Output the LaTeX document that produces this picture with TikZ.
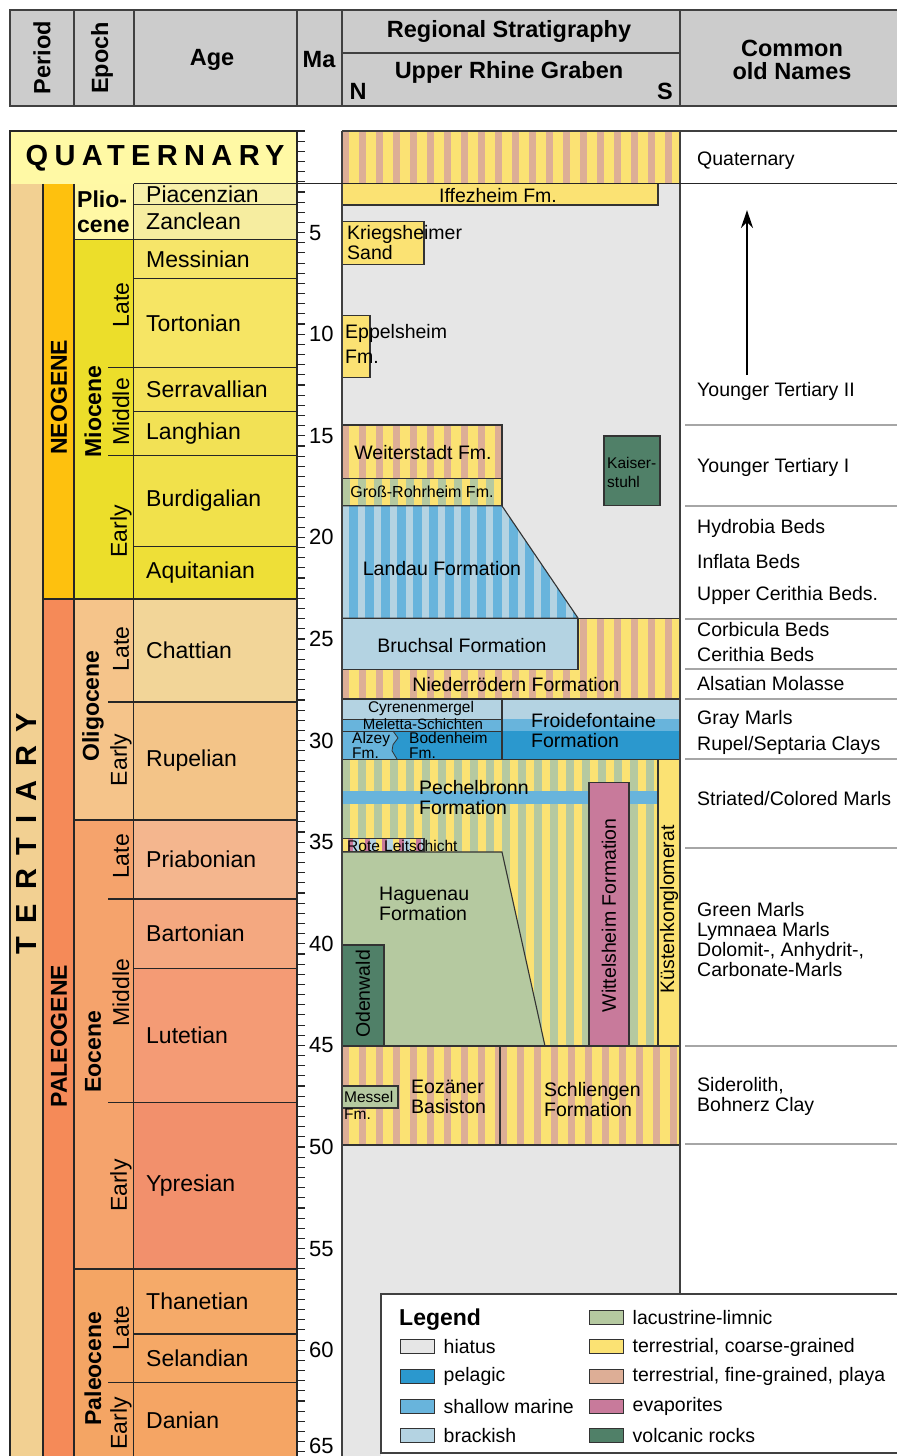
\documentclass[tikz,border=0pt]{standalone}
\usepackage{fontspec}
\setmainfont{Liberation Sans}
\usetikzlibrary{arrows.meta,positioning}

% time scale colours
\definecolor{hdrgrey}{RGB}{204,204,204}
\definecolor{quat}{RGB}{255,249,165}
\definecolor{tert}{RGB}{242,208,146}
\definecolor{neog}{RGB}{254,193,14}
\definecolor{paleog}{RGB}{245,138,88}
\definecolor{plio}{RGB}{255,248,165}
\definecolor{piac}{RGB}{247,240,170}
\definecolor{zanc}{RGB}{246,237,160}
\definecolor{mioc}{RGB}{236,222,42}
\definecolor{mess}{RGB}{246,229,105}
\definecolor{tort}{RGB}{246,229,100}
\definecolor{serr}{RGB}{244,226,90}
\definecolor{lang}{RGB}{242,225,85}
\definecolor{burd}{RGB}{241,225,75}
\definecolor{aqui}{RGB}{238,223,55}
\definecolor{olig}{RGB}{245,196,138}
\definecolor{chat}{RGB}{242,213,152}
\definecolor{rupe}{RGB}{243,196,136}
\definecolor{eoc}{RGB}{245,163,108}
\definecolor{pria}{RGB}{244,182,142}
\definecolor{bart}{RGB}{244,168,128}
\definecolor{lute}{RGB}{244,155,117}
\definecolor{ypre}{RGB}{242,144,108}
\definecolor{paleoc}{RGB}{244,165,100}
\definecolor{than}{RGB}{245,170,105}
\definecolor{sela}{RGB}{245,168,102}
\definecolor{dani}{RGB}{245,165,100}
% facies colours
\definecolor{hiatus}{RGB}{230,230,230}
\definecolor{pelagic}{RGB}{43,152,206}
\definecolor{shallow}{RGB}{104,180,220}
\definecolor{brackish}{RGB}{180,211,226}
\definecolor{lacus}{RGB}{181,201,160}
\definecolor{tcoarse}{RGB}{251,226,115}
\definecolor{tfine}{RGB}{221,174,150}
\definecolor{evap}{RGB}{200,122,155}
\definecolor{volc}{RGB}{80,128,104}

\tikzset{
  stripes/.style n args={4}{fill=#1,path picture={%
    \foreach \sx in {0,#4,...,400}
      \fill[#2] ([xshift=\sx pt]path picture bounding box.south west)
        rectangle ([xshift=\sx pt+#3pt]path picture bounding box.north west);}},
  redstripes/.style={fill=tcoarse,path picture={%
    \foreach \sx in {0,17,...,120} {
      \fill[evap] ([xshift=\sx pt+6pt]path picture bounding box.south west)
        rectangle ([xshift=\sx pt+11pt]path picture bounding box.north west);
      \fill[brackish] ([xshift=\sx pt+11pt]path picture bounding box.south west)
        rectangle ([xshift=\sx pt+17pt]path picture bounding box.north west);}}},
}

\begin{document}
\begin{tikzpicture}[x=1pt,y=-20.32pt,
  cellline/.style={line width=1.3pt,black!85},
  colline/.style={line width=2pt,black!75},
  sepline/.style={line width=1.5pt,black!35},
  unit/.style={draw=black!80,line width=1.1pt},
  matick/.style={line width=1.1pt,black!85},
  agetxt/.style={anchor=west,inner sep=0pt,font=\fontsize{23}{24}\selectfont},
  epochtxt/.style={rotate=90,inner sep=0pt,font=\bfseries\fontsize{23}{24}\selectfont},
  subtxt/.style={rotate=90,inner sep=0pt,font=\fontsize{23}{24}\selectfont},
  hdrtxt/.style={inner sep=0pt,align=center,font=\bfseries\fontsize{23.5}{23}\selectfont},
  malabel/.style={anchor=west,inner sep=0pt,font=\fontsize{22}{22}\selectfont},
  fmtxt/.style={inner sep=0pt,align=left,font=\fontsize{19.5}{20}\selectfont},
  smalltxt/.style={inner sep=0pt,align=left,font=\fontsize{15.5}{19}\selectfont},
  oldtxt/.style={anchor=west,inner sep=0pt,align=left,font=\fontsize{19.5}{20}\selectfont},
  swatch/.style={draw=black!80,line width=1pt,minimum width=34pt,minimum height=14pt,inner sep=0pt},
]
\fill[white] (0,-6.447) rectangle (897,65.207);
\useasboundingbox (0,-6.447) rectangle (897,65.207);

% header
\fill[hdrgrey] (10,-5.955) rectangle (897,-1.23);
\draw[colline] (897,-5.955) -- (10,-5.955) -- (10,-1.23) -- (897,-1.23);
\foreach \hx in {74,133.5,297,342,680}
  \draw[colline] (\hx,-5.955) -- (\hx,-1.23);
\draw[colline] (342,-3.839) -- (680,-3.839);
\node[hdrtxt,rotate=90] (hperiod) at (42,-3.6) {Period};
\node[hdrtxt,rotate=90] (hepoch) at (102,-3.6) {Epoch};
\node[hdrtxt] (hage) at (212,-3.5) {Age};
\node[hdrtxt] (hma) at (319,-3.5) {Ma};
\node[hdrtxt] (hregion) at (509,-4.92) {Regional Stratigraphy};
\node[hdrtxt] (hgraben) at (509,-2.9) {Upper Rhine Graben};
\node[hdrtxt] (hnorth) at (358,-1.95) {N};
\node[hdrtxt] (hsouth) at (665,-1.95) {S};
\node[hdrtxt] (hold) at (792,-3.52) {Common\\old Names};

% time scale
\fill[quat] (10,0) rectangle (297,2.6);
\fill[tert] (10,2.6) rectangle (43,65.3);
\fill[neog] (43,2.6) rectangle (74,23.03);
\fill[paleog] (43,23.03) rectangle (74,65.3);
\foreach \ta/\tb/\cl in {2.6/5.33/plio,5.33/23.03/mioc,23.03/33.9/olig,33.9/56/eoc,56/65.3/paleoc}
  \fill[\cl] (74,\ta) rectangle (133.5,\tb);
\foreach \nm/\ta/\tb/\cl in {Piacenzian/2.6/3.6/piac,Zanclean/3.6/5.33/zanc,
    Messinian/5.33/7.25/mess,Tortonian/7.25/11.63/tort,Serravallian/11.63/13.82/serr,
    Langhian/13.82/15.97/lang,Burdigalian/15.97/20.44/burd,Aquitanian/20.44/23.03/aqui,
    Chattian/23.03/28.1/chat,Rupelian/28.1/33.9/rupe,Priabonian/33.9/37.8/pria,
    Bartonian/37.8/41.2/bart,Lutetian/41.2/47.8/lute,Ypresian/47.8/56/ypre,
    Thanetian/56/59.2/than,Selandian/59.2/61.6/sela,Danian/61.6/65.3/dani} {
  \fill[\cl] (133.5,\ta) rectangle (297,\tb);
  \draw[cellline] (133.5,\ta) -- (297,\ta);
  \node[agetxt] (\nm) at (146,{(\ta+\tb)/2}) {\nm};
}
\foreach \b in {5.33,33.9,56}
  \draw[cellline] (74,\b) -- (297,\b);
\draw[cellline] (43,23.03) -- (297,23.03);
\foreach \b in {11.63,15.97,28.1,37.8,47.8,61.6}
  \draw[cellline] (108,\b) -- (133.5,\b);
\foreach \vx in {43,74,133.5}
  \draw[cellline] (\vx,2.6) -- (\vx,65.3);
\draw[cellline] (297,0) -- (10,0) -- (10,65.3);
\draw[cellline] (297,0) -- (297,65.3);

\node[inner sep=0pt,font=\bfseries\fontsize{29}{29}\selectfont\addfontfeature{LetterSpace=22}] (quaternary) at (155,1.33) {QUATERNARY};
\node[rotate=90,inner sep=0pt,font=\bfseries\fontsize{29}{29}\selectfont\addfontfeature{LetterSpace=48}] (tertiary) at (27,34.6) {TERTIARY};
\node[epochtxt] (neogene) at (59,13.1) {NEOGENE};
\node[epochtxt] (paleogene) at (59,44.55) {PALEOGENE};
\node[anchor=west,inner sep=0pt,align=left,font=\bfseries\fontsize{23}{25}\selectfont] (pliocene) at (77,3.96) {Plio-\\cene};
\node[epochtxt] (miocene) at (93,13.8) {Miocene};
\node[epochtxt] (oligocene) at (93,28.3) {Oligocene};
\node[epochtxt] (eocene) at (93,45.3) {Eocene};
\node[epochtxt] (paleocene) at (93,60.9) {Paleocene};
\node[subtxt] (miolate) at (121,8.56) {Late};
\node[subtxt] (miomid) at (121,13.83) {Middle};
\node[subtxt] (mioearly) at (121,19.7) {Early};
\node[subtxt] (oliglate) at (121,25.5) {Late};
\node[subtxt] (oligearly) at (121,30.95) {Early};
\node[subtxt] (eoclate) at (121,35.7) {Late};
\node[subtxt] (eocmid) at (121,42.4) {Middle};
\node[subtxt] (eocearly) at (121,51.9) {Early};
\node[subtxt] (pallate) at (121,58.9) {Late};
\node[subtxt] (palearly) at (121,63.6) {Early};

% Ma scale
\foreach \t in {0,0.5,...,65}
  \draw[matick] (297,\t) -- (305,\t);
\foreach \t in {5,10,...,60}
  \node[malabel] (ma\t) at (309,\t) {\t};
\node[malabel] (ma65) at (309,64.72) {65};

% Upper Rhine Graben
\fill[hiatus] (342,2.6) rectangle (680,65.3);
\path[stripes={tcoarse}{tfine}{7}{17}] (342,0) rectangle (680,2.6);
\draw[unit,fill=tcoarse] (342,2.6) rectangle (658,3.64);
\node[fmtxt] (iffezheim) at (498,3.2) {Iffezheim Fm.};
\draw[unit,fill=tcoarse] (342,4.46) rectangle (424,6.55);
\node[fmtxt,anchor=west] (kriegsheim) at (347,5.51) {Kriegsheimer\\Sand};
\draw[unit,fill=tcoarse] (342,9.06) rectangle (370,12.11);
\node[fmtxt,anchor=west,font=\fontsize{19.5}{25}\selectfont] (eppelsheim) at (345,10.46) {Eppelsheim\\Fm.};
\draw[unit,stripes={tcoarse}{tfine}{7}{17}] (342,14.47) rectangle (502,17.08);
\node[fmtxt] (weiterstadt) at (423,15.8) {Weiterstadt Fm.};
\draw[unit,stripes={tcoarse}{lacus}{8}{16}] (342,17.08) rectangle (502,18.45);
\node[fmtxt,font=\fontsize{16}{16}\selectfont] (grossrohr) at (422,17.77) {Groß-Rohrheim Fm.};
\draw[unit,stripes={shallow}{brackish}{7}{16}] (342,18.45) -- (502,18.45) -- (578,23.97) -- (342,23.97) -- cycle;
\node[fmtxt] (landau) at (442,21.51) {Landau Formation};
\draw[unit,fill=volc] (604,15.01) rectangle (660,18.45);
\node[smalltxt,anchor=west] (kaiserstuhl) at (607,16.81) {Kaiser-\\stuhl};

\draw[unit,stripes={tcoarse}{tfine}{7}{17}] (578,23.97) -- (680,23.97) -- (680,27.95) -- (342,27.95) -- (342,26.48) -- (578,26.48) -- cycle;
\draw[unit,fill=brackish] (342,23.97) rectangle (578,26.48);
\node[fmtxt] (bruchsal) at (462,25.3) {Bruchsal Formation};
\node[fmtxt] (niederroedern) at (516,27.22) {Niederrödern Formation};

\draw[unit,fill=brackish] (342,27.95) rectangle (502,28.94);
\draw[unit,fill=shallow] (342,28.94) rectangle (502,29.53);
\fill[pelagic] (342,29.53) rectangle (502,30.91);
\fill[shallow] (342,29.53) -- (393,29.53) -- (398,29.87) -- (393,30.2) -- (392,30.5) -- (397,30.91) -- (342,30.91) -- cycle;
\draw[line width=0.8pt,black!80] (393,29.53) -- (398,29.87) -- (393,30.2) -- (392,30.5) -- (397,30.91);
\draw[unit] (342,29.53) rectangle (502,30.91);
\node[smalltxt] (cyrenen) at (421,28.42) {Cyrenenmergel};
\node[smalltxt,font=\fontsize{15}{15}\selectfont] (meletta) at (423,29.18) {Meletta-Schichten};
\node[smalltxt,anchor=west,font=\fontsize{15.5}{15}\selectfont] (alzey) at (352,30.22) {Alzey\\Fm.};
\node[smalltxt,anchor=west,font=\fontsize{15.5}{15}\selectfont] (bodenheim) at (409,30.22) {Bodenheim\\Fm.};
\fill[brackish] (502,27.95) rectangle (680,28.94);
\fill[shallow] (502,28.94) rectangle (680,29.53);
\fill[pelagic] (502,29.53) rectangle (680,30.91);
\draw[unit] (502,27.95) rectangle (680,30.91);
\node[fmtxt,anchor=west] (froidefontaine) at (531,29.48) {Froidefontaine\\Formation};

\path[stripes={tcoarse}{lacus}{8}{16}] (342,30.91) rectangle (658,45.03);
\fill[shallow] (342,32.48) rectangle (658,33.12);
\draw[unit] (342,30.91) rectangle (658,45.03);
\node[fmtxt,anchor=west] (pechelbronn) at (419,32.78) {Pechelbronn\\Formation};
\draw[unit,fill=evap] (589,32.04) rectangle (629,45.03);
\node[fmtxt,rotate=90] (wittelsheim) at (609,38.6) {Wittelsheim Formation};
\draw[unit,fill=tcoarse] (658,30.91) rectangle (680,45.03);
\node[fmtxt,rotate=90] (kuesten) at (669,38.3) {Küstenkonglomerat};
\draw[unit,redstripes] (342,34.81) rectangle (424,35.48);
\node[smalltxt,anchor=west] (rote) at (347,35.2) {Rote Leitschicht};
\draw[unit,fill=lacus] (342,35.48) -- (502,35.48) -- (545,45.03) -- (342,45.03) -- cycle;
\node[fmtxt,anchor=west] (haguenau) at (379,38.04) {Haguenau\\Formation};
\draw[unit,fill=volc] (342,40.06) rectangle (384,45.03);
\node[fmtxt,rotate=90] (odenwald) at (363,42.47) {Odenwald};

\draw[unit,stripes={tcoarse}{tfine}{7}{17}] (342,45.03) rectangle (500,49.9);
\draw[unit,stripes={tcoarse}{tfine}{7}{17}] (500,45.03) rectangle (680,49.9);
\draw[unit,fill=lacus] (342,47.0) rectangle (398,48.08);
\node[smalltxt,anchor=west] (messel) at (344,47.56) {Messel};
\node[smalltxt,anchor=west] (messelfm) at (344,48.4) {Fm.};
\node[fmtxt,anchor=west] (eozaen) at (411,47.54) {Eozäner\\Basiston};
\node[fmtxt,anchor=west] (schliengen) at (544,47.64) {Schliengen\\Formation};

\draw[colline] (342,0) -- (342,65.3);
\draw[colline] (680,0) -- (680,65.3);
\draw[colline] (342,0) -- (897,0);
\draw[cellline] (297,2.6) -- (897,2.6);

% common old names
\foreach \b in {14.47,18.45,24.02,26.48,27.95,30.91,35.28,45.03,49.85}
  \draw[sepline] (685,\b) -- (897,\b);
\node[oldtxt] (oquat) at (697,1.48) {Quaternary};
\coordinate (arrfoot) at (747,12.01);
\coordinate (arrhead) at (747,3.89);
\draw[-{Stealth[length=18pt,width=12pt]},line width=2.2pt] (arrfoot) -- (arrhead);
\node[oldtxt] (oyt2) at (697,12.84) {Younger Tertiary II};
\node[oldtxt] (oyt1) at (697,16.58) {Younger Tertiary I};
\node[oldtxt] (ohydro) at (697,19.54) {Hydrobia Beds};
\node[oldtxt] (oinfl) at (697,21.21) {Inflata Beds};
\node[oldtxt] (oucer) at (697,22.88) {Upper Cerithia Beds.};
\node[oldtxt] (ocorb) at (697,24.51) {Corbicula Beds};
\node[oldtxt] (ocer) at (697,25.74) {Cerithia Beds};
\node[oldtxt] (oalsat) at (697,27.17) {Alsatian Molasse};
\node[oldtxt] (ogray) at (697,28.94) {Gray Marls};
\node[oldtxt] (orupel) at (697,30.22) {Rupel/Septaria Clays};
\node[oldtxt] (ostriat) at (697,32.83) {Striated/Colored Marls};
\node[oldtxt] (ogreen) at (697,39.81) {Green Marls\\Lymnaea Marls\\Dolomit-, Anhydrit-,\\Carbonate-Marls};
\node[oldtxt] (osider) at (697,47.49) {Siderolith,\\Bohnerz Clay};

% legend
\fill[white] (381,57.24) rectangle (897,65.3);
\draw[colline,line width=1.5pt] (897,57.24) -- (381,57.24) -- (381,65.06) -- (897,65.06);
\node[anchor=west,inner sep=0pt,font=\bfseries\fontsize{23}{23}\selectfont] (legend) at (399,58.51) {Legend};
\node[swatch,fill=hiatus] (swhiatus) at (417,59.84) {};
\node[swatch,fill=pelagic] (swpelagic) at (417,61.27) {};
\node[swatch,fill=shallow] (swshallow) at (417,62.75) {};
\node[swatch,fill=brackish] (swbrackish) at (417,64.22) {};
\node[swatch,fill=lacus] (swlacus) at (606,58.37) {};
\node[swatch,fill=tcoarse] (swcoarse) at (606,59.84) {};
\node[swatch,fill=tfine] (swfine) at (606,61.27) {};
\node[swatch,fill=evap] (swevap) at (606,62.75) {};
\node[swatch,fill=volc] (swvolc) at (606,64.2) {};
\node[oldtxt,right=9pt of swhiatus] (lbhiatus) {hiatus};
\node[oldtxt,right=9pt of swpelagic] (lbpelagic) {pelagic};
\node[oldtxt,right=9pt of swshallow] (lbshallow) {shallow marine};
\node[oldtxt,right=9pt of swbrackish] (lbbrackish) {brackish};
\node[oldtxt,right=9pt of swlacus] (lblacus) {lacustrine-limnic};
\node[oldtxt,right=9pt of swcoarse] (lbcoarse) {terrestrial, coarse-grained};
\node[oldtxt,right=9pt of swfine] (lbfine) {terrestrial, fine-grained, playa};
\node[oldtxt,right=9pt of swevap] (lbevap) {evaporites};
\node[oldtxt,right=9pt of swvolc] (lbvolc) {volcanic rocks};
\end{tikzpicture}
\end{document}
